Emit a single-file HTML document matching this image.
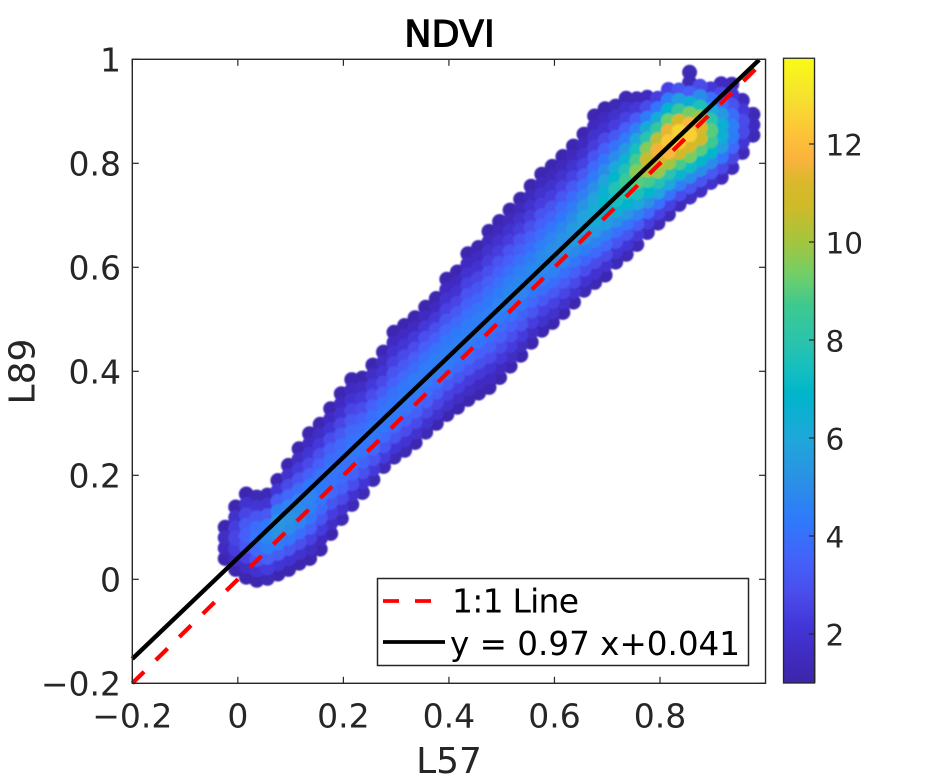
<!DOCTYPE html>
<html>
<head>
<meta charset="utf-8">
<title>NDVI</title>
<style>
html,body{margin:0;padding:0;background:#fff;}
svg{display:block;font-family:"DejaVu Sans","Liberation Sans",sans-serif;}
</style>
</head>
<body>
<svg id="chart" xmlns="http://www.w3.org/2000/svg" width="938" height="781" viewBox="0 0 938 781">
  <defs>
    <linearGradient id="cbar-gradient" x1="0" y1="1" x2="0" y2="0"></linearGradient>
    <filter id="soften" x="-5%" y="-5%" width="110%" height="110%"><feGaussianBlur stdDeviation="0.9"/></filter>
  </defs>
  <rect x="0" y="0" width="938" height="781" fill="#ffffff"/>
  <g id="scatter" filter="url(#soften)"></g>
  <g id="lines"></g>
  <g id="axes"></g>
  <text x="449.5" y="46.5" font-size="36.5" text-anchor="middle" fill="#000" stroke="#000" stroke-width="1.1">NDVI</text>
  <text x="449" y="773" font-size="36" text-anchor="middle" fill="#262626">L57</text>
  <text x="34.5" y="371.5" font-size="36" text-anchor="middle" fill="#262626" transform="rotate(-90 34.5 371.5)">L89</text>
  <g id="colorbar"></g>
  <g>
    <rect x="377.5" y="578.5" width="371" height="87" fill="#fff" stroke="#262626" stroke-width="1.5"/>
    <line x1="383" y1="601" x2="431" y2="601" stroke="#ff0000" stroke-width="3.8" stroke-dasharray="16 16"/>
    <text x="452" y="612.5" font-size="33" fill="#000" textLength="127" lengthAdjust="spacing">1:1 Line</text>
    <line x1="383" y1="642" x2="445" y2="642" stroke="#000" stroke-width="3.8"/>
    <text x="450" y="655" font-size="33" fill="#000" textLength="290" lengthAdjust="spacingAndGlyphs">y = 0.97 x+0.041</text>
  </g>
</svg>
<script>
// Axis ticks
const xTickValues = [-0.2, 0, 0.2, 0.4, 0.6, 0.8];
const xTickLabels = ["\u22120.2", "0", "0.2", "0.4", "0.6", "0.8"];
const yTickValues = [-0.2, 0, 0.2, 0.4, 0.6, 0.8, 1];
const yTickLabels = ["\u22120.2", "0", "0.2", "0.4", "0.6", "0.8", "1"];
const colorbarTickValues = [2, 4, 6, 8, 10, 12];
const colorbarTickLabels = ["2", "4", "6", "8", "10", "12"];

// Reference lines
const lineL57 = [-0.2, 0.985];
const oneToOneL89 = [-0.2, 0.985];
const fitL57 = [-0.2, 0.988];
const fitL89 = [-0.153, 0.999];

// Colour map: density value -> colour
const colormapValues = [1, 1.45, 2.15, 2.8, 3.5, 4.3, 5.2, 6, 6.9, 7.4, 8, 8.7, 9.3, 10, 10.7, 11.2, 11.7, 12.2, 13, 13.75];
const colormapColors = ["#3d26a8", "#3f2abb", "#4335d8", "#4a4cea", "#4461fa", "#2f79fb", "#2a92e4", "#1ea8da", "#00b5cb", "#15bfbf", "#2cc3ac", "#3dc98f", "#6fcf6a", "#a3c53e", "#cebb2a", "#d9b82c", "#fbb33e", "#fdc338", "#f5e32e", "#f9fb15"];

// Scatter: one entry per L57 column, lowest L89 in that
// column (rows step 0.02 upward) and the density of each point going up.
const columnL57 = [-0.024, -0.004, 0.016, 0.036, 0.056, 0.076, 0.096, 0.116, 0.136, 0.156, 0.176, 0.196, 0.216, 0.236, 0.256, 0.276, 0.296, 0.316, 0.336, 0.356, 0.376, 0.396, 0.416, 0.436, 0.456, 0.476, 0.496, 0.516, 0.536, 0.556, 0.576, 0.596, 0.616, 0.636, 0.656, 0.676, 0.696, 0.716, 0.736, 0.756, 0.776, 0.796, 0.816, 0.836, 0.856, 0.876, 0.896, 0.916, 0.936, 0.956, 0.976, 0.856];
const columnLowestL89 = [0.040, 0.019, 0.004, -0.002, 0.002, 0.010, 0.019, 0.031, 0.040, 0.058, 0.088, 0.117, 0.144, 0.167, 0.192, 0.217, 0.235, 0.248, 0.263, 0.283, 0.300, 0.317, 0.331, 0.346, 0.358, 0.369, 0.388, 0.410, 0.431, 0.456, 0.479, 0.494, 0.513, 0.533, 0.556, 0.571, 0.585, 0.610, 0.625, 0.644, 0.667, 0.685, 0.702, 0.721, 0.735, 0.748, 0.763, 0.773, 0.792, 0.821, 0.854, 0.955];
const columnDensity = [
  [1.2,1.6,1.7,1.2],
  [1.2,1.7,2.3,2.6,2.4,1.8,1.2],
  [1.2,1.7,2.5,3.1,3.4,3.2,2.6,1.9,1.2],
  [1.2,2.0,3.0,3.8,4.2,3.9,3.1,2.1,1.3],
  [1.3,2.3,3.4,4.4,4.8,4.3,3.2,2.1,1.3],
  [1.2,2.1,3.3,4.4,5.2,5.3,4.5,3.3,2.1,1.2],
  [1.2,2.0,3.1,4.2,5.0,5.2,4.7,3.7,2.7,1.9,1.2],
  [1.2,1.9,2.9,3.9,4.7,5.0,4.7,3.9,3.0,2.3,1.7,1.2],
  [1.2,1.7,2.5,3.4,4.2,4.6,4.7,4.2,3.4,2.7,2.1,1.6,1.2],
  [1.2,1.6,2.3,3.1,3.8,4.2,4.3,4.1,3.5,2.9,2.2,1.7,1.2],
  [1.2,1.7,2.4,3.1,3.7,4.1,4.2,3.9,3.4,2.8,2.1,1.6,1.2],
  [1.3,1.9,2.7,3.4,3.9,4.1,4.0,3.7,3.2,2.6,2.0,1.6,1.2],
  [1.3,2.0,2.8,3.5,4.0,4.2,4.1,3.7,3.2,2.6,2.0,1.6,1.2],
  [1.3,2.1,2.9,3.6,4.1,4.2,3.9,3.4,2.8,2.2,1.7,1.2],
  [1.3,2.2,3.0,3.7,4.2,4.2,3.9,3.4,2.8,2.2,1.7,1.2],
  [1.4,2.3,3.1,3.8,4.3,4.2,3.9,3.3,2.7,2.1,1.7,1.2],
  [1.3,2.1,3.0,3.7,4.3,4.3,4.0,3.5,3.0,2.5,2.0,1.6,1.2],
  [1.3,2.0,2.8,3.5,4.1,4.4,4.2,3.7,3.2,2.7,2.1,1.6,1.2],
  [1.2,1.9,2.7,3.4,4.0,4.4,4.4,3.9,3.4,2.8,2.2,1.6,1.2],
  [1.3,1.9,2.7,3.4,4.0,4.4,4.4,4.0,3.5,2.9,2.2,1.6,1.2],
  [1.2,1.9,2.6,3.3,4.0,4.4,4.5,4.1,3.5,2.9,2.2,1.6,1.2],
  [1.2,1.8,2.5,3.2,3.9,4.4,4.5,4.2,3.7,3.1,2.5,2.0,1.6,1.2],
  [1.2,1.7,2.4,3.1,3.8,4.3,4.5,4.3,3.8,3.2,2.6,2.0,1.6,1.2],
  [1.2,1.7,2.3,3.0,3.7,4.2,4.5,4.4,4.0,3.5,3.0,2.5,2.0,1.6,1.2],
  [1.2,1.6,2.2,2.9,3.5,4.1,4.5,4.5,4.1,3.6,3.1,2.6,2.0,1.6,1.2],
  [1.2,1.6,2.1,2.8,3.4,3.9,4.4,4.6,4.3,3.9,3.4,2.9,2.4,1.9,1.5,1.2],
  [1.2,1.6,2.2,2.8,3.4,3.9,4.4,4.7,4.4,4.0,3.5,3.0,2.4,1.9,1.5,1.2],
  [1.2,1.7,2.3,2.9,3.5,4.1,4.6,4.8,4.5,4.0,3.5,3.0,2.4,1.9,1.5,1.2],
  [1.2,1.7,2.3,3.0,3.6,4.2,4.7,4.8,4.5,4.0,3.5,3.0,2.4,1.9,1.5,1.2],
  [1.2,1.7,2.4,3.1,3.7,4.3,4.8,4.8,4.4,3.9,3.4,2.9,2.4,1.9,1.5,1.2],
  [1.2,1.8,2.5,3.2,3.9,4.5,4.9,4.9,4.5,4.0,3.5,3.0,2.4,1.9,1.5,1.2],
  [1.2,1.8,2.5,3.2,3.9,4.6,5.0,5.1,4.7,4.2,3.6,3.0,2.4,1.9,1.5,1.2],
  [1.2,1.8,2.6,3.3,4.0,4.7,5.2,5.2,4.8,4.3,3.7,3.1,2.5,1.9,1.5,1.2],
  [1.2,1.9,2.7,3.4,4.2,4.9,5.4,5.5,5.0,4.4,3.8,3.2,2.5,1.9,1.5,1.2],
  [1.3,2.0,2.8,3.6,4.4,5.2,5.8,5.8,5.2,4.6,3.9,3.2,2.5,1.9,1.5,1.2],
  [1.3,2.0,2.8,3.7,4.6,5.5,6.2,6.3,5.8,5.1,4.4,3.7,3.0,2.4,1.9,1.5,1.2],
  [1.2,1.9,2.8,3.7,4.6,5.6,6.5,7.0,6.5,5.8,5.0,4.2,3.4,2.7,2.0,1.6,1.2],
  [1.3,2.1,3.0,4.0,5.1,6.4,7.4,7.7,7.0,6.0,5.0,4.1,3.2,2.4,1.8,1.3],
  [1.3,2.1,3.1,4.2,5.4,6.8,8.0,8.6,7.8,6.7,5.5,4.4,3.4,2.5,1.8,1.3],
  [1.3,2.2,3.3,4.6,6.0,7.6,9.0,9.6,8.8,7.5,6.0,4.6,3.3,2.2,1.4],
  [1.4,2.4,3.7,5.2,7.0,8.8,10.2,10.6,9.6,8.0,6.2,4.4,2.8,1.6],
  [1.4,2.5,4.0,5.8,7.8,9.8,11.2,11.6,10.4,8.4,6.2,4.2,2.4],
  [1.4,2.5,4.1,6.0,8.0,10.0,11.8,12.3,11.4,9.2,6.8,4.4,2.5],
  [1.5,2.8,4.5,6.6,8.8,10.8,12.4,12.6,11.0,8.4,5.6,3.0],
  [1.7,3.1,5.0,7.2,9.4,11.2,12.5,11.8,9.4,6.4,3.4],
  [1.7,3.1,5.0,7.0,9.0,10.8,11.2,10.0,7.6,5.0,2.8],
  [1.8,3.2,5.0,7.0,8.6,9.0,8.0,6.0,4.0,2.2],
  [1.5,2.7,4.2,5.6,6.5,6.4,5.4,4.0,2.7,1.6],
  [1.5,2.6,3.7,4.4,4.5,3.9,3.0,2.1,1.4],
  [1.4,2.1,2.7,2.8,2.2,1.5],
  [1.3,1.6,1.3],
  [1.3,1.3]
];

const SVG_NS = "http://www.w3.org/2000/svg";
const xScale = v => 132.3 + (v + 0.2) * 527.7;
const yScale = v => 579.3 - v * 520;
const cbarScale = v => 634 - (v - 2) * 49;
const cbarMin = 1;
const cbarMax = 13.75;

function make(parent, tag, attrs) {
  const el = document.createElementNS(SVG_NS, tag);
  for (const k in attrs) el.setAttribute(k, attrs[k]);
  parent.appendChild(el);
  return el;
}
function hexToRgb(h) {
  return [parseInt(h.slice(1, 3), 16), parseInt(h.slice(3, 5), 16), parseInt(h.slice(5, 7), 16)];
}
function densityColor(v) {
  if (v <= colormapValues[0]) return colormapColors[0];
  for (let i = 1; i < colormapValues.length; i++) {
    if (v <= colormapValues[i]) {
      const t = (v - colormapValues[i - 1]) / (colormapValues[i] - colormapValues[i - 1]);
      const a = hexToRgb(colormapColors[i - 1]);
      const b = hexToRgb(colormapColors[i]);
      return "rgb(" + a.map((c, n) => Math.round(c + (b[n] - c) * t)).join(",") + ")";
    }
  }
  return colormapColors[colormapColors.length - 1];
}

// Scatter points, low density first so the dense core sits on top
const points = [];
columnL57.forEach((x, c) => {
  columnDensity[c].forEach((d, r) => {
    points.push({ x: x, y: columnLowestL89[c] + r * 0.02, d: d });
  });
});
points.sort((a, b) => a.d - b.d);
const scatter = document.getElementById("scatter");
points.forEach(p => {
  const dot = make(scatter, "circle", { cx: xScale(p.x).toFixed(1), cy: yScale(p.y).toFixed(1), r: 7.5, fill: densityColor(p.d) });
  
  
});

// Reference lines
const lines = document.getElementById("lines");
const oneToOne = make(lines, "line", { x1: xScale(lineL57[0]), y1: yScale(oneToOneL89[0]), x2: xScale(lineL57[1]), y2: yScale(oneToOneL89[1]), stroke: "#ff0000", "stroke-width": 4.2, "stroke-dasharray": "16.5 16.5" });


const fitLine = make(lines, "line", { x1: xScale(fitL57[0]), y1: yScale(fitL89[0]), x2: xScale(fitL57[1]), y2: yScale(fitL89[1]), stroke: "#000000", "stroke-width": 4.4 });



// Axes
const axes = document.getElementById("axes");
const INK = "#262626";
const frame = make(axes, "rect", { x: xScale(-0.2), y: yScale(1), width: xScale(1) - xScale(-0.2), height: yScale(-0.2) - yScale(1), fill: "none", stroke: INK, "stroke-width": 1.4 });


xTickValues.forEach((v, i) => {
  const px = xScale(v);
  const bottomTick = make(axes, "line", { x1: px, y1: yScale(-0.2), x2: px, y2: yScale(-0.2) - 6.5, stroke: INK, "stroke-width": 1.2 });
  
  
  const topTick = make(axes, "line", { x1: px, y1: yScale(1), x2: px, y2: yScale(1) + 6.5, stroke: INK, "stroke-width": 1.2 });
  
  
  const label = make(axes, "text", { x: px, y: 727.5, "font-size": 33, "text-anchor": "middle", fill: INK });
  
  
  label.textContent = xTickLabels[i];
});
yTickValues.forEach((v, i) => {
  const py = yScale(v);
  const leftTick = make(axes, "line", { x1: xScale(-0.2), y1: py, x2: xScale(-0.2) + 6.5, y2: py, stroke: INK, "stroke-width": 1.2 });
  
  
  const rightTick = make(axes, "line", { x1: xScale(1), y1: py, x2: xScale(1) - 6.5, y2: py, stroke: INK, "stroke-width": 1.2 });
  
  
  const label = make(axes, "text", { x: 121, y: py + 12, "font-size": 33, "text-anchor": "end", fill: INK });
  
  
  label.textContent = yTickLabels[i];
});

// Colorbar
const gradient = document.getElementById("cbar-gradient");
colormapValues.forEach((v, i) => {
  make(gradient, "stop", { offset: ((v - cbarMin) / (cbarMax - cbarMin)).toFixed(4), "stop-color": colormapColors[i] });
});
const colorbar = document.getElementById("colorbar");
const cbarFill = make(colorbar, "rect", { x: 783.5, y: cbarScale(cbarMax), width: 32, height: cbarScale(cbarMin) - cbarScale(cbarMax), fill: "url(#cbar-gradient)" });


const cbarFrame = make(colorbar, "rect", { x: 783.5, y: cbarScale(cbarMax), width: 31, height: cbarScale(cbarMin) - cbarScale(cbarMax), fill: "none", stroke: INK, "stroke-width": 1.3 });


colorbarTickValues.forEach((v, i) => {
  const py = cbarScale(v);
  const tick = make(colorbar, "line", { x1: 814.5, y1: py, x2: 809, y2: py, stroke: INK, "stroke-width": 1.2 });
  
  
  const label = make(colorbar, "text", { x: 825.5, y: py + 11.5, "font-size": 29.5, fill: INK });
  
  
  label.textContent = colorbarTickLabels[i];
});
</script>
</body>
</html>
